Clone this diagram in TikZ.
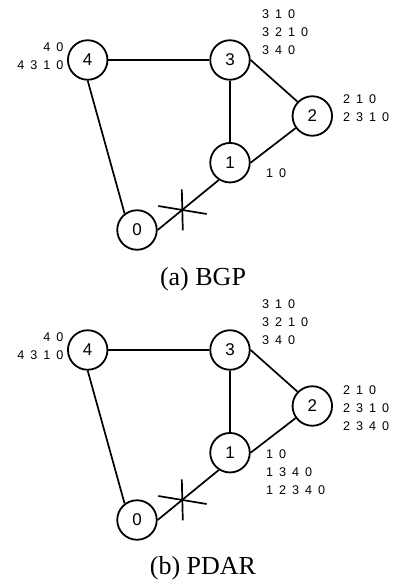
\documentclass[tikz,border=0pt]{standalone}
\usepackage{fontspec}
\setmainfont{Liberation Serif}
\newfontfamily\numfont[WordSpace=1.7]{Liberation Sans}
\begin{document}
\begin{tikzpicture}[x=1pt,y=-1pt]
                \tikzstyle{vertex}=[circle, draw=black, line width=1.8pt, inner sep=0pt, minimum size=39.5pt, font=\numfont\fontsize{17}{20}\selectfont, text=black]
                \tikzstyle{dist}=[inner sep=0pt, font=\numfont\fontsize{12.6}{18.3}\selectfont, text=black]
                \tikzstyle{caption}=[inner sep=0pt, font=\fontsize{26}{30}\selectfont]
                \tikzstyle{edge}=[black, line width=1.7pt]
                \useasboundingbox (0,0) rectangle (395,585);

                % (a) BGP
                \node[vertex] (a4) at (87.7,60) {4};
                \node[vertex] (a3) at (230,60) {3};
                \node[vertex] (a2) at (312.3,116) {2};
                \node[vertex] (a1) at (230,162.7) {1};
                \node[vertex] (a0) at (137,230) {0};

                \draw[edge] (a4.east) -- (a3.west);
                \draw[edge] (a4.south) -- (a0.127);
                \draw[edge] (a3.south) -- (a1.north);
                \draw[edge] (a3.east) -- (a2.136);
                \draw[edge] (a1.east) -- (a2.216);
                \draw[edge] (a0.east) -- (a1.237);

                \coordinate (afail) at (182.3,210);
                \draw[edge] (afail) ++(-0.5,-20.7) -- ++(1,41);
                \draw[edge] (afail) ++(-24,-4) -- ++(48.4,8);

                \node[dist, align=right, anchor=east] (a4d) at (63.5,56.5) {4 0\\4 3 1 0};
                \node[dist, align=left, anchor=west] (a3d) at (262,32) {3 1 0\\3 2 1 0\\3 4 0};
                \node[dist, align=left, anchor=west] (a2d) at (343,108.5) {2 1 0\\2 3 1 0};
                \node[dist, align=left, anchor=west] (a1d) at (266,173) {1 0};

                \node[caption, anchor=base] (acap) at (203,285) {(a) BGP};

                % (b) PDAR
                \begin{scope}[yshift=-290pt]
                \node[vertex] (b4) at (87.7,60) {4};
                \node[vertex] (b3) at (230,60) {3};
                \node[vertex] (b2) at (312.3,116) {2};
                \node[vertex] (b1) at (230,162.7) {1};
                \node[vertex] (b0) at (137,230) {0};

                \draw[edge] (b4.east) -- (b3.west);
                \draw[edge] (b4.south) -- (b0.127);
                \draw[edge] (b3.south) -- (b1.north);
                \draw[edge] (b3.east) -- (b2.136);
                \draw[edge] (b1.east) -- (b2.216);
                \draw[edge] (b0.east) -- (b1.237);

                \coordinate (bfail) at (182.3,210);
                \draw[edge] (bfail) ++(-0.5,-20.7) -- ++(1,41);
                \draw[edge] (bfail) ++(-24,-4) -- ++(48.4,8);

                \node[dist, align=right, anchor=east] (b4d) at (63.5,56.5) {4 0\\4 3 1 0};
                \node[dist, align=left, anchor=west] (b3d) at (262,32) {3 1 0\\3 2 1 0\\3 4 0};
                \node[dist, align=left, anchor=west] (b2d) at (343,118) {2 1 0\\2 3 1 0\\2 3 4 0};
                \node[dist, align=left, anchor=west] (b1d) at (266,182.3) {1 0\\1 3 4 0\\1 2 3 4 0};

                \node[caption, anchor=base] (bcap) at (203,284) {(b) PDAR};
                \end{scope}
            \end{tikzpicture}
\end{document}
